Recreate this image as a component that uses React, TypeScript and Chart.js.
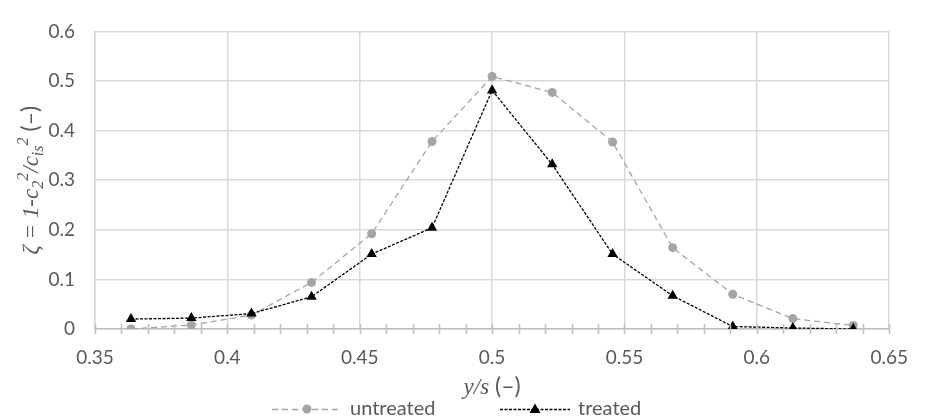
import React, { useEffect, useRef } from "react";
import { Chart, registerables } from "chart.js";

Chart.register(...registerables);

const xValues = [0.3636, 0.3864, 0.4091, 0.4318, 0.4545, 0.4773, 0.5, 0.5227, 0.5455, 0.5682, 0.5909, 0.6136, 0.6364];
const untreated = [0.0, 0.008, 0.028, 0.094, 0.192, 0.378, 0.509, 0.477, 0.377, 0.164, 0.07, 0.021, 0.007];
const treated = [0.02, 0.022, 0.031, 0.065, 0.151, 0.204, 0.481, 0.332, 0.151, 0.067, 0.005, 0.002, 0.0];
const seriesNames = ["untreated", "treated"];
const xTitle = [
  { t: "y/s", italic: true },
  { t: " (–)", italic: false },
];
const yTitle = [
  { t: "ζ = 1-c", italic: true },
  { t: "2", italic: true, shift: "sub" },
  { t: "2", italic: true, shift: "sup" },
  { t: "/c", italic: true },
  { t: "is", italic: true, shift: "sub" },
  { t: "2", italic: true, shift: "sup" },
  { t: " (–)", italic: false },
];

const TEXT = "#595959";
const GRAY = "#a5a5a5";
const SANS = "Lato";
const SERIF = "'Liberation Serif'";
const FS = 19;

type Seg = { t: string; italic: boolean; shift?: string };

function drawRich(ctx: CanvasRenderingContext2D, segs: Seg[], cx: number, cy: number, size: number, family: string) {
  const font = (s: Seg) => {
    const sz = s.shift ? size * 0.7 : size;
    return `${s.italic ? "italic " : ""}${sz}px ${s.italic ? family : SANS}`;
  };
  let total = 0;
  const widths = segs.map((s) => {
    ctx.font = font(s);
    const w = ctx.measureText(s.t).width;
    total += w;
    return w;
  });
  let x = cx - total / 2;
  const base = cy + size * 0.33;
  ctx.fillStyle = TEXT;
  ctx.textBaseline = "alphabetic";
  ctx.textAlign = "left";
  segs.forEach((s, i) => {
    ctx.font = font(s);
    let y = base;
    if (s.shift === "sub") y += size * 0.22;
    if (s.shift === "sup") y -= size * 0.42;
    ctx.fillText(s.t, x, y);
    x += widths[i];
  });
}

const decor = {
  id: "decor",
  afterDraw(chart: any) {
    const ctx: CanvasRenderingContext2D = chart.ctx;
    const xs = chart.scales.x;
    const ys = chart.scales.y;
    const axisY = ys.getPixelForValue(0);
    ctx.save();
    ctx.strokeStyle = "#bfbfbf";
    ctx.lineWidth = 1.5;
    xs.ticks.forEach((t: any) => {
      const px = Math.round(xs.getPixelForValue(t.value)) + 0.5;
      ctx.beginPath();
      ctx.moveTo(px, axisY - 5);
      ctx.lineTo(px, axisY + 5);
      ctx.stroke();
    });
    // axis titles
    drawRich(ctx, xTitle as Seg[], (chart.chartArea.left + chart.chartArea.right) / 2, 386, 23, SERIF);
    ctx.save();
    ctx.translate(30, (chart.chartArea.top + chart.chartArea.bottom) / 2);
    ctx.rotate(-Math.PI / 2);
    drawRich(ctx, yTitle as Seg[], 0, 0, 23, SERIF);
    ctx.restore();
    // legend
    const ly = 409;
    const items = [
      { x0: 272, color: GRAY, dash: [6, 4], style: "circle" },
      { x0: 500, color: "#000000", dash: [3, 1.5], style: "triangle" },
    ];
    items.forEach((it, i) => {
      ctx.save();
      ctx.strokeStyle = it.color;
      ctx.lineWidth = 1.3;
      ctx.setLineDash(it.dash);
      ctx.beginPath();
      ctx.moveTo(it.x0, ly + 0.5);
      ctx.lineTo(it.x0 + 70, ly + 0.5);
      ctx.stroke();
      ctx.setLineDash([]);
      ctx.fillStyle = it.color;
      const mx = it.x0 + 35;
      ctx.beginPath();
      if (it.style === "circle") {
        ctx.arc(mx, ly, 4.5, 0, Math.PI * 2);
      } else {
        ctx.moveTo(mx, ly - 5.5);
        ctx.lineTo(mx + 5.5, ly + 4);
        ctx.lineTo(mx - 5.5, ly + 4);
        ctx.closePath();
      }
      ctx.fill();
      ctx.restore();
      ctx.fillStyle = TEXT;
      ctx.font = `${FS + 1}px ${SANS}`;
      ctx.textBaseline = "middle";
      ctx.textAlign = "left";
      ctx.fillText(seriesNames[i], it.x0 + 78, ly);
    });
    ctx.restore();
  },
};

export default function App() {
  const ref = useRef<HTMLCanvasElement>(null);
  useEffect(() => {
    if (!ref.current) return;
    const chart = new Chart(ref.current, {
      type: "line",
      data: {
        datasets: [
          {
            label: seriesNames[0],
            data: xValues.map((x, i) => ({ x, y: untreated[i] })),
            borderColor: GRAY,
            backgroundColor: GRAY,
            borderWidth: 1.3,
            borderDash: [6, 4],
            pointStyle: "circle",
            pointRadius: 4.5,
            pointBorderWidth: 0,
            order: 1,
          },
          {
            label: seriesNames[1],
            data: xValues.map((x, i) => ({ x, y: treated[i] })),
            borderColor: "#000000",
            backgroundColor: "#000000",
            borderWidth: 1.3,
            borderDash: [3, 1.5],
            pointStyle: "triangle",
            pointRadius: 6,
            pointBorderWidth: 0,
            order: 0,
          },
        ],
      },
      options: {
        responsive: false,
        animation: false,
        layout: { padding: { left: 0, right: 25, top: 20, bottom: 0 } },
        plugins: { legend: { display: false }, tooltip: { enabled: false } },
        scales: {
          x: {
            type: "linear",
            min: 0.35,
            max: 0.65,
            afterFit: (s: any) => {
              s.height = 90;
            },
            ticks: {
              stepSize: 0.01,
              maxTicksLimit: 100,
              autoSkip: false,
              maxRotation: 0,
              padding: 17,
              color: TEXT,
              font: { family: SANS, size: FS },
              callback: (v: any) => {
                const n = Math.round(Number(v) * 100);
                return n % 5 === 0 ? String(n / 100) : "";
              },
            },
            grid: {
              drawTicks: false,
              lineWidth: 1.5,
              color: (c: any) => {
                const n = Math.round(Number(c.tick?.value) * 100);
                return n % 5 === 0 ? "#d9d9d9" : "rgba(0,0,0,0)";
              },
            },
            border: { color: "#bfbfbf", width: 1.5 },
          },
          y: {
            min: 0,
            max: 0.6,
            afterFit: (s: any) => {
              s.width = 95;
            },
            ticks: {
              stepSize: 0.1,
              padding: 20,
              color: TEXT,
              font: { family: SANS, size: FS },
              callback: (v: any) => String(Math.round(Number(v) * 10) / 10),
            },
            grid: { drawTicks: false, lineWidth: 1.5, color: "#d9d9d9" },
            border: { color: "#d9d9d9", width: 1.5 },
          },
        },
      },
      plugins: [decor],
    } as any);
    return () => chart.destroy();
  }, []);
  return (
    <div style={{ position: "absolute", left: 0, top: 0, width: 925, height: 419, background: "#fff" }}>
      <canvas ref={ref} width={925} height={419} style={{ width: 925, height: 419 }} />
    </div>
  );
}
